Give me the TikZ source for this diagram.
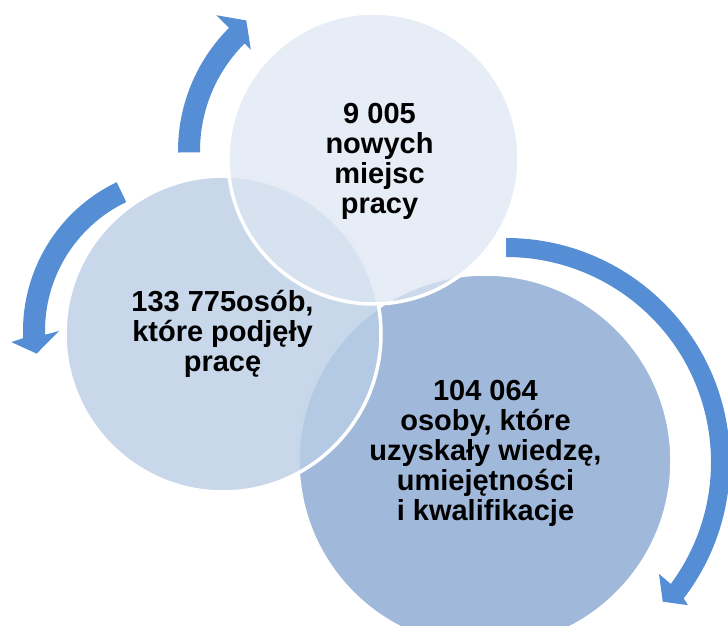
\documentclass[tikz,border=0pt]{standalone}
\usepackage{fontspec}
\setmainfont{Liberation Sans}
\definecolor{arrowblue}{HTML}{558ED5}
\definecolor{cbot}{HTML}{A0B9DB}
\definecolor{cleft}{HTML}{BACDE5}
\definecolor{ctop}{HTML}{DDE6F2}
\begin{document}
\begin{tikzpicture}[x=1pt,y=1pt,
  disc/.style={circle, inner sep=0pt, draw=white, line width=3.5pt},
  lbl/.style={font=\fontsize{29}{30}\selectfont\bfseries, align=center, inner sep=0pt, anchor=north, text=black},
  arr/.style={fill=arrowblue}]
\useasboundingbox (0,0) rectangle (728,626);
% circles
\node[disc, fill=cbot, minimum size=374pt] (bot) at (485,165) {};
\node[disc, fill=cleft, fill opacity=0.8, minimum size=316pt] (left) at (223,292) {};
\node[disc, fill=ctop, fill opacity=0.73, minimum size=291pt] (top) at (373.5,467.5) {};
% texts
\node[lbl] (ttop) at (379.5,503) {\smash{9 005}\\\smash{nowych}\\\smash{miejsc}\\\smash{pracy}};
\node[lbl] (tleft) at (222.5,315) {\smash{133 775osób,}\\\smash{które podjęły}\\\smash{pracę}};
\node[lbl] (tbot) at (485.5,226) {\smash{104 064}\\\smash{osoby, które}\\\smash{uzyskały wiedzę,}\\\smash{umiejętności}\\\smash{i kwalifikacje}};
% cycle arrows
\coordinate (a1) at (352,475);
\coordinate (a2) at (188,295);
\coordinate (a3) at (506,164);
\fill[arr] ([shift={(a1)}]180.5:174) arc[start angle=180.5,end angle=135,radius=174]
  -- ([shift={(a1)}]135:192) -- ([shift={(a1)}]129:168) -- ([shift={(a1)}]135:143)
  -- ([shift={(a1)}]135:152) arc[start angle=135,end angle=180.5,radius=152] -- cycle;
\fill[arr] ([shift={(a2)}]115.6:165) arc[start angle=115.6,end angle=182.5,radius=165]
  -- ([shift={(a2)}]183.6:177) -- ([shift={(a2)}]188.5:153) -- ([shift={(a2)}]180:129)
  -- ([shift={(a2)}]181.5:143) arc[start angle=181.5,end angle=115.6,radius=143] -- cycle;
\fill[arr] ([shift={(a3)}]90:224) arc[start angle=90,end angle=-37.5,radius=224]
  -- ([shift={(a3)}]-38.2:231.5) -- ([shift={(a3)}]-41.7:210) -- ([shift={(a3)}]-36.2:189.6)
  -- ([shift={(a3)}]-36.5:205) arc[start angle=-36.5,end angle=90,radius=205] -- cycle;
\end{tikzpicture}
\end{document}
